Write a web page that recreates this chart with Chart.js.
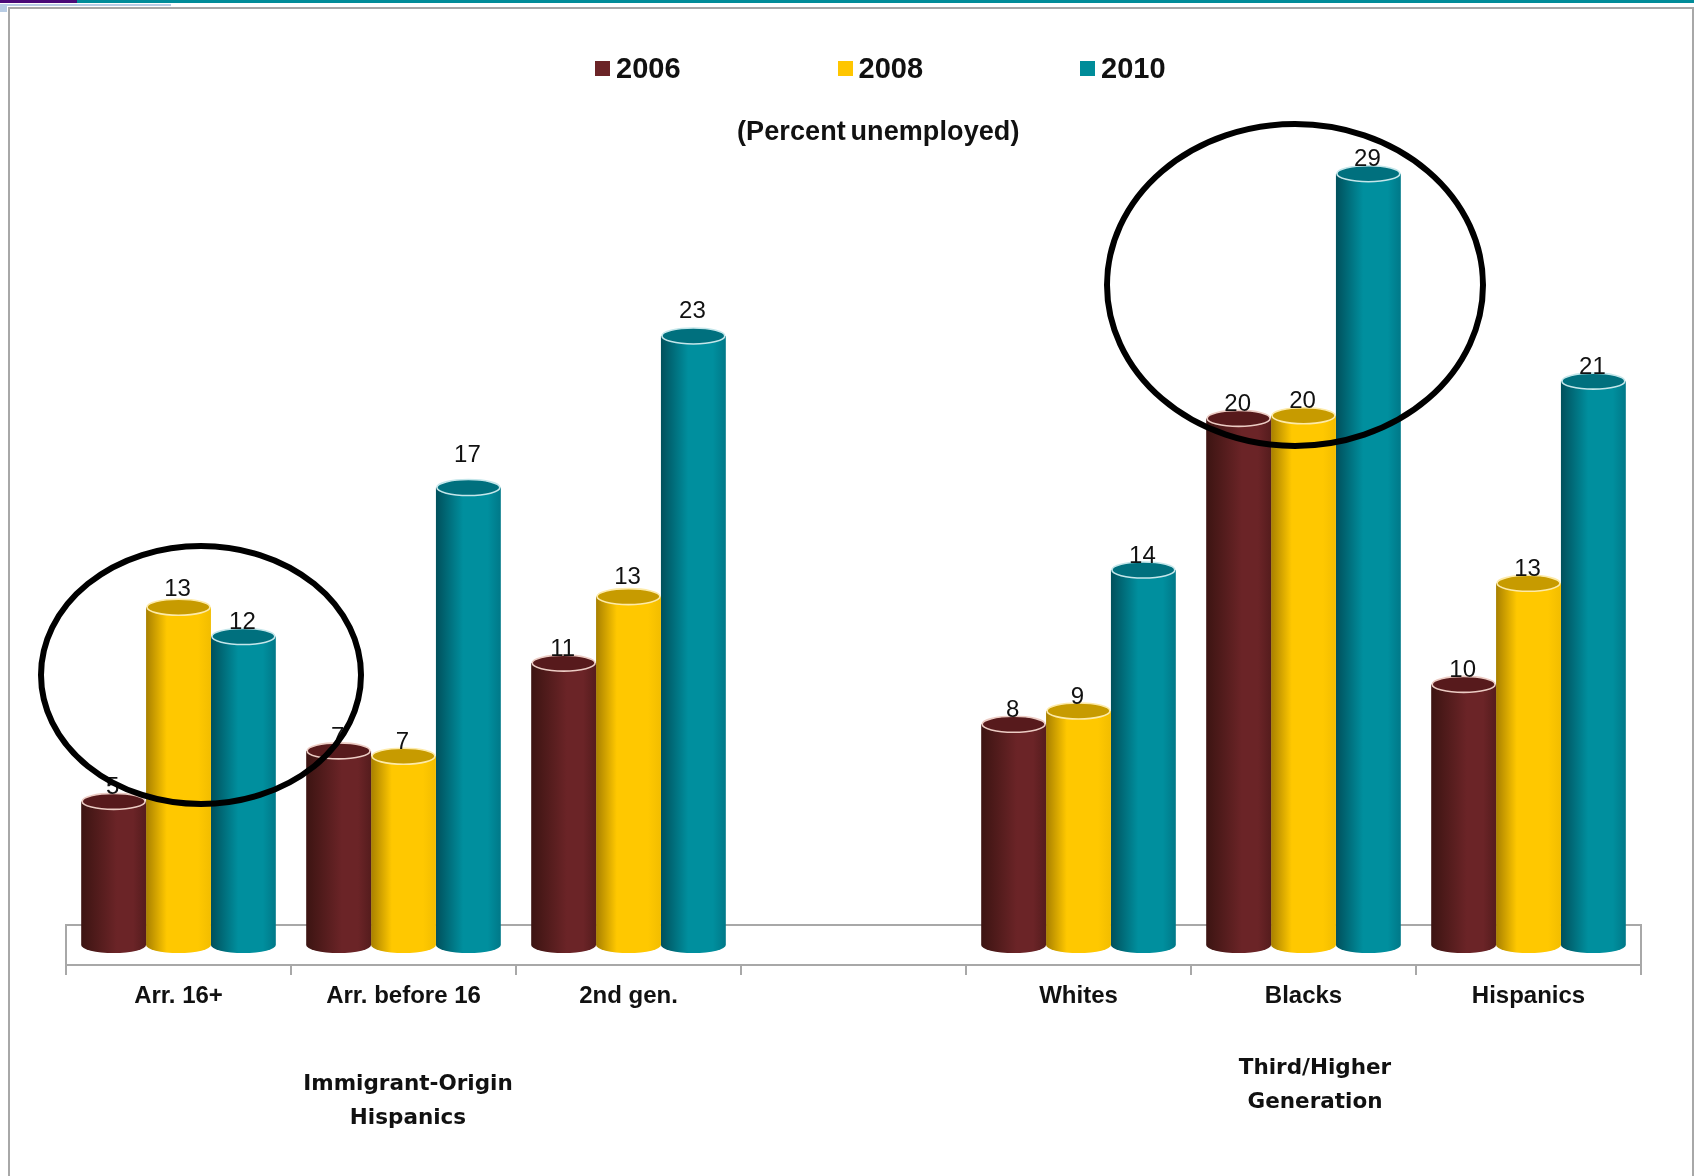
<!DOCTYPE html>
<html>
<head>
<meta charset="utf-8">
<title>Percent unemployed</title>
<script src="https://cdn.jsdelivr.net/npm/chart.js@4"></script>
<style>
    html, body { margin: 0; padding: 0; background: #fff; overflow: hidden; }
    #page { position: relative; width: 1694px; height: 1176px; font-family: "Liberation Sans", Arial, sans-serif; color: #111; filter: blur(0.4px); }
    #page div { position: absolute; }
    #bandTeal { left: 0; top: 0; width: 1694px; height: 3px; background: #008c99; }
    #bandPurple { left: 0; top: 0; width: 77px; height: 3px; background: #4b0a78; }
    #bandBlue { left: 0; top: 4px; width: 171px; height: 2px; background: #b8cce4; }
    #bandBlock { left: 0; top: 4px; width: 7px; height: 8px; background: #b8cce4; }
    #frame { left: 8px; top: 7px; width: 1682px; height: 1170px; border: 2px solid #a8a8a8; border-bottom: 0; }
    canvas { position: absolute; left: 0; top: 0; }
    #legend { left: 595px; top: 48px; height: 40px; width: 760px; }
    .legendItem { top: 0; height: 40px; line-height: 40px; font-size: 29px; font-weight: bold; white-space: nowrap; }
    .legendItem i { display: inline-block; width: 15px; height: 15px; margin-right: 6px; vertical-align: 2px; }
    #unit { left: 737px; top: 116px; font-size: 27px; font-weight: bold; word-spacing: -3px; letter-spacing: 0.1px; white-space: nowrap; }
    .group { text-align: center; font-family: "DejaVu Sans", sans-serif; font-size: 21.5px; font-weight: bold; line-height: 34px; white-space: nowrap; transform: translateX(-50%); }
    #marks { position: absolute; left: 0; top: 0; }
</style>
</head>
<body>
<div id="page">
    <div id="bandTeal"></div>
    <div id="bandPurple"></div>
    <div id="bandBlue"></div>
    <div id="bandBlock"></div>
    <div id="frame"></div>
    <canvas id="unemployment" width="1694" height="1176"></canvas>
    <div id="legend"></div>
    <div id="unit">(Percent unemployed)</div>
    <div class="group" style="left:408px;top:1066px">Immigrant-Origin<br>Hispanics</div>
    <div class="group" style="left:1315px;top:1050px">Third/Higher<br>Generation</div>
    <svg id="marks" width="1694" height="1176">
        <ellipse cx="201" cy="675" rx="160" ry="129" fill="none" stroke="#000" stroke-width="6"/>
        <ellipse cx="1295" cy="285" rx="188" ry="161" fill="none" stroke="#000" stroke-width="6"/>
    </svg>
</div>

<script>
(function() {
    var categories = ['Arr. 16+', 'Arr. before 16', '2nd gen.', '', 'Whites', 'Blacks', 'Hispanics'];
    var seriesNames = ['2006', '2008', '2010'];

    // bar heights
    var values2006 = [5.4, 7.3, 10.6, null, 8.3, 19.8, 9.8];
    var values2008 = [12.7, 7.1, 13.1, null, 8.8, 19.9, 13.6];
    var values2010 = [11.6, 17.2, 22.9, null, 14.1, 29, 21.2];

    // numbers printed above the bars
    var labels2006 = [5, 7, 11, null, 8, 20, 10];
    var labels2008 = [13, 7, 13, null, 9, 20, 13];
    var labels2010 = [12, 17, 23, null, 14, 29, 21];

    var allValues = [values2006, values2008, values2010];
    var allLabels = [labels2006, labels2008, labels2010];

    // left edge, lit part, right edge of each cylinder
    var shades = [
        { key: '#6b2427', left: '#3c1412', mid: '#6b2427', midAt: 0.55, right: '#551c1d', top: '#571a1c', rim: '#ecccc4' },
        { key: '#ffc600', left: '#a88000', mid: '#ffc800', midAt: 0.32, right: '#f2bd00', top: '#c79b00', rim: '#fdeaa8' },
        { key: '#008c99', left: '#00505c', mid: '#008f9e', midAt: 0.42, right: '#007888', top: '#00707e', rim: '#c4e6ea' }
    ];

    var BAR_SHARE = 0.865;
    var CAP_HEIGHT = 8;
    var LABEL_LIFT = 14;
    // a few printed numbers sit higher than the rest
    var labelNudge = { '1:0': 4, '1:2': 5, '2:1': 18, '2:2': 11 };

    function barGradient(ctx) {
        var chart = ctx.chart;
        var shade = shades[ctx.datasetIndex];
        var xScale = chart.scales.x;
        if (!xScale || ctx.dataIndex === undefined) { return shade.mid; }
        var share = (xScale.width / categories.length) * BAR_SHARE / 3;
        var cx = xScale.getPixelForValue(ctx.dataIndex) + (ctx.datasetIndex - 1) * share;
        if (!isFinite(cx) || !isFinite(share)) { return shade.mid; }
        var g = chart.ctx.createLinearGradient(cx - share / 2, 0, cx + share / 2, 0);
        g.addColorStop(0, shade.left);
        g.addColorStop(shade.midAt, shade.mid);
        g.addColorStop(0.8, shade.mid);
        g.addColorStop(1, shade.right);
        return g;
    }

    // Floor of the 3D box, behind the bars
    var floorPlugin = {
        id: 'floor',
        beforeDatasetsDraw: function(chart) {
            var c = chart.ctx;
            var area = chart.chartArea;
            var back = chart.scales.y.getPixelForValue(0.75);
            c.save();
            c.strokeStyle = '#a8a8a8';
            c.lineWidth = 2;
            c.beginPath();
            c.moveTo(area.left, area.bottom);
            c.lineTo(area.left, back);
            c.lineTo(area.right, back);
            c.lineTo(area.right, area.bottom);
            c.stroke();
            c.restore();
        }
    };

    // Caps of the cylinders and the numbers above them
    var cylinderPlugin = {
        id: 'cylinder',
        afterDatasetsDraw: function(chart) {
            var c = chart.ctx;
            c.save();
            for (var d = 0; d < chart.data.datasets.length; d++) {
                var bars = chart.getDatasetMeta(d).data;
                for (var i = 0; i < bars.length; i++) {
                    if (allValues[d][i] === null) { continue; }
                    var bar = bars[i];
                    var rx = bar.width / 2;

                    // round bottom
                    c.fillStyle = bar.options.backgroundColor;
                    c.beginPath();
                    c.ellipse(bar.x, bar.base, rx, CAP_HEIGHT, 0, 0, Math.PI);
                    c.fill();

                    // lid
                    c.fillStyle = shades[d].top;
                    c.strokeStyle = shades[d].rim;
                    c.lineWidth = 1.6;
                    c.beginPath();
                    c.ellipse(bar.x, bar.y, rx - 1, CAP_HEIGHT, 0, 0, Math.PI * 2);
                    c.fill();
                    c.stroke();

                    // number
                    var lift = LABEL_LIFT + (labelNudge[d + ':' + i] || 0);
                    c.fillStyle = '#111';
                    c.font = '24px "Liberation Sans", Arial, sans-serif';
                    c.textAlign = 'center';
                    c.textBaseline = 'middle';
                    c.fillText(allLabels[d][i], bar.x - 1, bar.y - lift);
                }
            }
            c.restore();
        }
    };

    var datasets = [];
    for (var s = 0; s < seriesNames.length; s++) {
        datasets.push({
            label: seriesNames[s],
            data: allValues[s],
            backgroundColor: barGradient,
            borderWidth: 0,
            categoryPercentage: BAR_SHARE,
            barPercentage: 1
        });
    }

    var chart = new Chart(document.getElementById('unemployment'), {
        type: 'bar',
        data: { labels: categories, datasets: datasets },
        plugins: [floorPlugin, cylinderPlugin],
        options: {
            responsive: false,
            animation: false,
            layout: { padding: { left: 66, right: 53, top: 100, bottom: 151 } },
            plugins: {
                legend: { display: false },
                title: { display: false },
                tooltip: { enabled: false }
            },
            scales: {
                x: {
                    afterFit: function(scale) { scale.height = 60; },
                    grid: { drawOnChartArea: false, color: '#a8a8a8', tickLength: 10, lineWidth: 2 },
                    border: { color: '#a8a8a8', width: 2 },
                    ticks: {
                        color: '#111',
                        padding: 7,
                        autoSkip: false,
                        maxRotation: 0,
                        font: { family: '"Liberation Sans", Arial, sans-serif', size: 24, weight: 'bold' }
                    }
                },
                y: { display: false, min: -0.75, max: 31.77 }
            }
        }
    });

    // Legend written as page text, from the chart's own datasets
    var legendBox = document.getElementById('legend');
    chart.data.datasets.forEach(function(ds, n) {
        var item = document.createElement('div');
        item.className = 'legendItem';
        item.style.left = (n * 242.5) + 'px';
        item.innerHTML = '<i style="background:' + shades[n].key + '"></i>' + ds.label;
        legendBox.appendChild(item);
    });
})();
</script>
</body>
</html>
